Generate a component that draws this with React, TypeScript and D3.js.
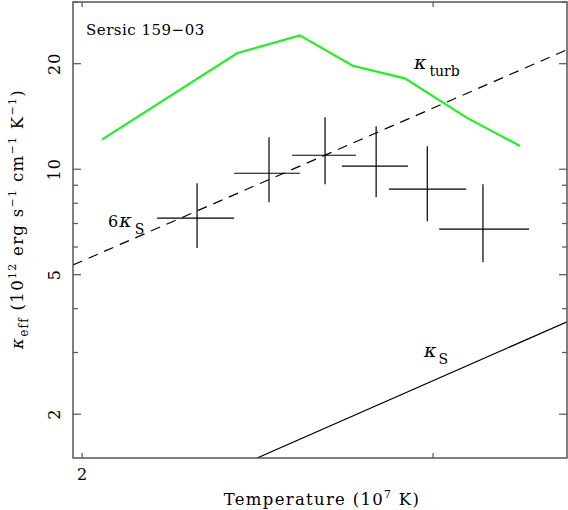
import React from "react";
import * as d3 from "d3";

// Data (temperature in 10^7 K, kappa in 10^12 erg s^-1 cm^-1 K^-1)
const tempC = [2.284, 2.482, 2.648, 2.809, 2.98, 3.178];
const tempLo = [2.181, 2.384, 2.549, 2.7, 2.851, 3.021];
const tempHi = [2.384, 2.572, 2.744, 2.914, 3.117, 3.352];
const kappa = [7.25, 9.74, 10.96, 10.2, 8.77, 6.75];
const kappaLo = [5.96, 8.05, 9.06, 8.32, 7.11, 5.43];
const kappaHi = [9.12, 12.33, 14.06, 13.26, 11.63, 9.06];

const turbT = [2.046, 2.393, 2.572, 2.734, 2.904, 3.117, 3.317];
const turbK = [12.15, 21.45, 24.09, 19.74, 18.17, 14.06, 11.65];

const sixKsT = [1.979, 3.502];
const sixKsV = [5.33, 21.93];
const ksT = [2.448, 3.502];
const ksV = [1.5, 3.67];

const yMajor = [2, 5, 10, 20];
const yMinor = [3, 4, 6, 7, 8, 9, 30];
const xMajor = [2];
const xMinor = [3];

const L = 73, R = 567, T = 2, B = 458;

export default function App() {
  const x = d3.scaleLog().domain([1.979, 3.502]).range([L, R]);
  const y = d3.scaleLog().domain([1.5, 30]).range([B, T]);
  const line = d3
    .line<[number, number]>()
    .x((d) => x(d[0]))
    .y((d) => y(d[1]));
  const zip = (a: number[], b: number[]) => a.map((v, i) => [v, b[i]] as [number, number]);
  const axisCol = "#555";
  const font = "'DejaVu Serif', serif";
  return (
    <svg
      width={568}
      height={510}
      style={{ position: "absolute", left: 0, top: 0, background: "#fff" }}
      fontFamily={font}
    >
      <defs>
        <clipPath id="plotclip">
          <rect x={L} y={T} width={R - L} height={B - T} />
        </clipPath>
      </defs>
      <g clipPath="url(#plotclip)">
        <path d={line(zip(turbT, turbK)) || ""} fill="none" stroke="#22ee22" strokeWidth={2.2} />
        <path d={line(zip(sixKsT, sixKsV)) || ""} fill="none" stroke="#000" strokeWidth={1.2} strokeDasharray="10,7" />
        <path d={line(zip(ksT, ksV)) || ""} fill="none" stroke="#000" strokeWidth={1.2} />
        {tempC.map((t, i) => (
          <g key={i} stroke="#000" strokeWidth={1.2}>
            <line x1={x(tempLo[i])} x2={x(tempHi[i])} y1={y(kappa[i])} y2={y(kappa[i])} />
            <line x1={x(t)} x2={x(t)} y1={y(kappaLo[i])} y2={y(kappaHi[i])} />
          </g>
        ))}
      </g>
      {/* frame */}
      <rect x={L} y={T} width={R - L} height={B - T} fill="none" stroke={axisCol} strokeWidth={1.5} />
      {/* y ticks */}
      {yMajor.concat(yMinor).map((v) => {
        const len = yMajor.includes(v) ? 8 : 5;
        return (
          <g key={"y" + v} stroke={axisCol} strokeWidth={1.2}>
            <line x1={L} x2={L + len} y1={y(v)} y2={y(v)} />
            <line x1={R} x2={R - len} y1={y(v)} y2={y(v)} />
          </g>
        );
      })}
      {xMajor.concat(xMinor).map((v) => (
        <g key={"x" + v} stroke={axisCol} strokeWidth={1.2}>
          <line x1={x(v)} x2={x(v)} y1={B} y2={B - 5} />
          <line x1={x(v)} x2={x(v)} y1={T} y2={T + 5} />
        </g>
      ))}
      {yMajor.map((v) => (
        <text
          key={"yl" + v}
          transform={`translate(60,${y(v)}) rotate(-90)`}
          textAnchor="middle"
          fontSize={16}
          letterSpacing={1}
          fill="#000"
        >
          {v}
        </text>
      ))}
      {xMajor.map((v) => (
        <text key={"xl" + v} x={x(v)} y={480} textAnchor="middle" fontSize={16} fill="#000">
          {v}
        </text>
      ))}
      {/* axis titles */}
      <text x={322} y={505} textAnchor="middle" fontSize={16.5} letterSpacing={1.3} fill="#000">
        Temperature (10<tspan dy={-7} fontSize={11}>7</tspan>
        <tspan dy={7}> K)</tspan>
      </text>
      <text transform="translate(23,219) rotate(-90)" textAnchor="middle" fontSize={16.5} letterSpacing={1.3} fill="#000">
        <tspan fontStyle="italic">κ</tspan>
        <tspan dy={5} fontSize={12}>eff</tspan>
        <tspan dy={-5}> (10</tspan>
        <tspan dy={-7} fontSize={11}>12</tspan>
        <tspan dy={7}> erg s</tspan>
        <tspan dy={-7} fontSize={11}>−1</tspan>
        <tspan dy={7}> cm</tspan>
        <tspan dy={-7} fontSize={11}>−1</tspan>
        <tspan dy={7}> K</tspan>
        <tspan dy={-7} fontSize={11}>−1</tspan>
        <tspan dy={7}>)</tspan>
      </text>
      {/* annotations */}
      <text x={86} y={35} fontSize={15} letterSpacing={0.5} fill="#000">Sersic 159−03</text>
      <text x={414} y={69} fontSize={19} fill="#000">
        <tspan fontStyle="italic">κ</tspan>
        <tspan dx={3} dy={7} fontSize={14}>turb</tspan>
      </text>
      <text x={108} y={227} fontSize={16} fill="#000">
        6<tspan dx={1} fontSize={19} fontStyle="italic">κ</tspan>
        <tspan dx={3} dy={7} fontSize={14}>S</tspan>
      </text>
      <text x={424} y={357} fontSize={19} fill="#000">
        <tspan fontStyle="italic">κ</tspan>
        <tspan dx={2} dy={7} fontSize={14}>S</tspan>
      </text>
    </svg>
  );
}
